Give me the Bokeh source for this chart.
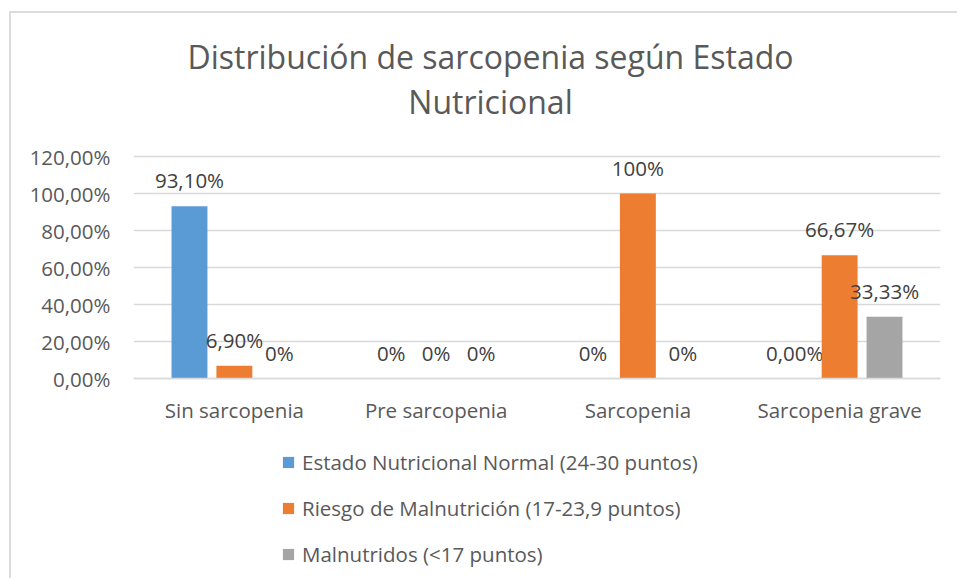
from bokeh.plotting import figure
from bokeh.models import ColumnDataSource, FactorRange, FixedTicker, Legend, LegendItem, Label, Range1d
from bokeh.transform import dodge
from bokeh.core.properties import value
from bokeh.embed import file_html
from bokeh.resources import INLINE

# ---- data ----
categories = ["Sin sarcopenia", "Pre sarcopenia", "Sarcopenia", "Sarcopenia grave"]
series_names = [
    "Estado Nutricional Normal (24-30 puntos)",
    "Riesgo de Malnutrición (17-23,9 puntos)",
    "Malnutridos (<17 puntos)",
]
normal = [93.10, 0.0, 0.0, 0.0]
riesgo = [6.90, 0.0, 100.0, 66.67]
malnutridos = [0.0, 0.0, 0.0, 33.33]
normal_labels = ["93,10%", "0%", "0%", "0,00%"]
riesgo_labels = ["6,90%", "0%", "100%", "66,67%"]
malnutridos_labels = ["0%", "0%", "0%", "33,33%"]
y_ticks = [0, 20, 40, 60, 80, 100, 120]
y_tick_labels = ["0,00%", "20,00%", "40,00%", "60,00%", "80,00%", "100,00%", "120,00%"]
title_lines = ["Distribución de sarcopenia según Estado", "Nutricional"]

colors = ["#5B9BD5", "#ED7D31", "#A5A5A5"]
FONT = "Open Sans"
AXIS_COLOR = "#595959"
LABEL_COLOR = "#404040"
GRID_COLOR = "#D9D9D9"

# layout (pixels, canvas coordinates)
W, H = 948, 567
FRAME_L, FRAME_R, FRAME_T, FRAME_B = 122, 929, 2, 567
ZERO_Y = 365            # where the value 0 sits on the canvas
PX_PER_UNIT = 1.85      # vertical scale of the value axis
y_start = -(FRAME_B - ZERO_Y) / PX_PER_UNIT
y_end = (ZERO_Y - FRAME_T) / PX_PER_UNIT
base = FRAME_B - ZERO_Y  # screen offset of value 0 above frame bottom

src = ColumnDataSource(dict(
    cat=categories,
    normal=normal, riesgo=riesgo, malnutridos=malnutridos,
    normal_lab=normal_labels, riesgo_lab=riesgo_labels, malnutridos_lab=malnutridos_labels,
))

p = figure(
    width=W, height=H,
    x_range=FactorRange(factors=categories, range_padding=0),
    y_range=Range1d(y_start, y_end),
    output_backend="svg", toolbar_location=None,
    min_border_left=FRAME_L, min_border_right=W - FRAME_R,
    min_border_top=FRAME_T, min_border_bottom=H - FRAME_B,
)
p.styles = {
    "border-top": "2px solid #DCDCDC",
    "border-left": "2px solid #DCDCDC",
    "margin-left": "9px",
    "margin-top": "11px",
}
p.outline_line_color = None
p.background_fill_color = "white"
p.border_fill_color = "white"

offsets = [-0.2225, 0.0, 0.2225]
fields = ["normal", "riesgo", "malnutridos"]
renderers = []
for off, fld, col in zip(offsets, fields, colors):
    r = p.vbar(x=dodge("cat", off, range=p.x_range), top=fld, bottom=0, width=0.178,
               source=src, fill_color=col, line_color=None)
    renderers.append(r)
    p.text(x=dodge("cat", off, range=p.x_range), y=fld, text=fld + "_lab", source=src,
           text_align="center", text_baseline="alphabetic", y_offset=-26,
           text_font=value(FONT), text_font_size="20.5px", text_color=LABEL_COLOR)

# axes
p.yaxis.ticker = FixedTicker(ticks=y_ticks)
p.yaxis.major_label_overrides = {t: lab for t, lab in zip(y_ticks, y_tick_labels)}
p.yaxis.axis_line_color = None
p.yaxis.major_tick_line_color = None
p.yaxis.minor_tick_line_color = None
p.yaxis.major_tick_out = 0
p.yaxis.major_label_standoff = 23
p.yaxis.major_label_text_font = FONT
p.yaxis.major_label_text_font_size = "20.5px"
p.yaxis.major_label_text_color = AXIS_COLOR

p.xaxis.fixed_location = 0
p.xaxis.axis_line_color = GRID_COLOR
p.xaxis.axis_line_width = 1.5
p.xaxis.major_tick_line_color = None
p.xaxis.minor_tick_line_color = None
p.xaxis.major_tick_out = 0
p.xaxis.major_label_standoff = 17
p.xaxis.major_label_text_font = FONT
p.xaxis.major_label_text_font_size = "20.5px"
p.xaxis.major_label_text_color = AXIS_COLOR

p.xgrid.grid_line_color = None
p.ygrid.grid_line_color = GRID_COLOR
p.ygrid.grid_line_width = 1.5

# title (two lines), in screen pixels from the frame's bottom-left
for txt, dy in zip(title_lines, [322, 277]):
    p.add_layout(Label(x=357, y=base + dy, x_units="screen", y_units="screen", text=txt,
                       text_align="center", text_baseline="alphabetic",
                       text_font=FONT, text_font_size="32px", text_color=AXIS_COLOR))

# legend
legend = Legend(
    items=[LegendItem(label=n, renderers=[r]) for n, r in zip(series_names, renderers)],
    location=(148, base - 190), orientation="vertical",
    glyph_width=14, glyph_height=14, label_height=20, spacing=18,
    label_standoff=7, padding=0, margin=0,
    label_text_font=FONT, label_text_font_size="20.5px", label_text_color=AXIS_COLOR,
    border_line_color=None, background_fill_alpha=0,
)
p.add_layout(legend, "center")

open("out.html", "w").write(file_html(p, INLINE))
